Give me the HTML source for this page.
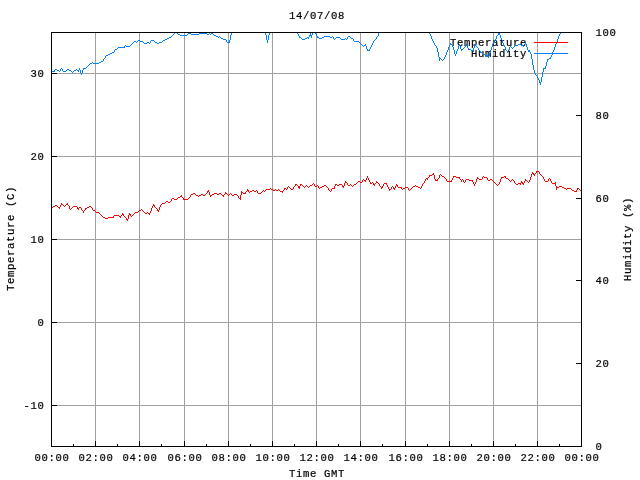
<!DOCTYPE html>
<html><head><meta charset="utf-8"><title>14/07/08</title>
<style>html,body{margin:0;padding:0;background:#fff;overflow:hidden}svg{display:block}</style></head>
<body>
<svg width="640" height="480" viewBox="0 0 640 480">
<rect x="0" y="0" width="640" height="480" fill="#fff"/>
<g shape-rendering="crispEdges" stroke-width="1" fill="none">
<g stroke="#a0a0a0">
<line x1="95.5" y1="32" x2="95.5" y2="447"/>
<line x1="139.5" y1="32" x2="139.5" y2="447"/>
<line x1="184.5" y1="32" x2="184.5" y2="447"/>
<line x1="228.5" y1="32" x2="228.5" y2="447"/>
<line x1="272.5" y1="32" x2="272.5" y2="447"/>
<line x1="316.5" y1="32" x2="316.5" y2="447"/>
<line x1="360.5" y1="32" x2="360.5" y2="447"/>
<line x1="405.5" y1="32" x2="405.5" y2="447"/>
<line x1="449.5" y1="32" x2="449.5" y2="447"/>
<line x1="493.5" y1="32" x2="493.5" y2="447"/>
<line x1="537.5" y1="32" x2="537.5" y2="447"/>
<line x1="51" y1="73.5" x2="582" y2="73.5"/>
<line x1="51" y1="156.5" x2="582" y2="156.5"/>
<line x1="51" y1="239.5" x2="582" y2="239.5"/>
<line x1="51" y1="322.5" x2="582" y2="322.5"/>
<line x1="51" y1="405.5" x2="582" y2="405.5"/>
</g>
</g>
<g font-family="'Liberation Mono', monospace" font-size="10.6px" letter-spacing="0.639px" fill="#000" stroke="#000" stroke-width="0.2">
<text x="450" y="46">Temperature</text>
<text x="471" y="57">Humidity</text>
</g>
<g fill="none" stroke-width="1" shape-rendering="crispEdges">
<path stroke="#0080ff" d="M175 32.5h2M212 32.5h1M231 32.5h1M265 32.5h1M269 32.5h1M297 32.5h1M312 32.5h1M315 32.5h1M379 32.5h1M429 32.5h1M560 32.5h1M174 33.5h1M177 33.5h1M188 33.5h3M199 33.5h8M209 33.5h1M211 33.5h2M231 33.5h1M265 33.5h1M269 33.5h1M297 33.5h1M310 33.5h1M312 33.5h1M315 33.5h1M378 33.5h1M429 33.5h1M498 33.5h2M560 33.5h1M173 34.5h1M178 34.5h2M187 34.5h1M191 34.5h8M207 34.5h2M210 34.5h1M213 34.5h1M231 34.5h1M265 34.5h1M269 34.5h1M298 34.5h1M310 34.5h1M312 34.5h1M316 34.5h1M378 34.5h1M430 34.5h1M498 34.5h2M559 34.5h1M172 35.5h1M180 35.5h7M214 35.5h2M230 35.5h1M266 35.5h1M268 35.5h1M298 35.5h1M309 35.5h3M316 35.5h1M378 35.5h1M430 35.5h1M497 35.5h1M500 35.5h1M559 35.5h1M171 36.5h1M216 36.5h2M219 36.5h1M230 36.5h1M266 36.5h1M268 36.5h1M299 36.5h1M309 36.5h1M311 36.5h1M317 36.5h1M324 36.5h6M332 36.5h1M348 36.5h2M377 36.5h1M431 36.5h1M496 36.5h1M500 36.5h1M558 36.5h1M169 37.5h2M218 37.5h1M220 37.5h1M230 37.5h1M266 37.5h1M268 37.5h1M299 37.5h2M307 37.5h2M311 37.5h1M317 37.5h2M322 37.5h2M330 37.5h2M333 37.5h1M336 37.5h4M347 37.5h1M350 37.5h1M376 37.5h1M431 37.5h1M496 37.5h1M500 37.5h1M558 37.5h1M167 38.5h2M221 38.5h2M230 38.5h1M266 38.5h1M268 38.5h1M301 38.5h1M305 38.5h2M308 38.5h1M319 38.5h3M333 38.5h1M335 38.5h1M340 38.5h1M345 38.5h1M347 38.5h1M351 38.5h2M376 38.5h1M431 38.5h1M496 38.5h1M501 38.5h1M558 38.5h1M165 39.5h2M223 39.5h3M230 39.5h1M266 39.5h1M268 39.5h1M302 39.5h3M334 39.5h1M341 39.5h4M346 39.5h1M353 39.5h1M375 39.5h1M432 39.5h1M495 39.5h1M501 39.5h1M557 39.5h1M138 40.5h2M151 40.5h3M163 40.5h2M226 40.5h1M229 40.5h1M267 40.5h1M353 40.5h1M374 40.5h1M432 40.5h1M494 40.5h1M502 40.5h1M557 40.5h1M134 41.5h2M137 41.5h1M140 41.5h3M150 41.5h1M154 41.5h1M162 41.5h1M226 41.5h1M229 41.5h1M267 41.5h1M354 41.5h5M373 41.5h1M433 41.5h1M494 41.5h1M502 41.5h1M557 41.5h1M133 42.5h1M136 42.5h1M143 42.5h1M147 42.5h2M150 42.5h1M155 42.5h2M159 42.5h3M227 42.5h3M267 42.5h1M359 42.5h1M373 42.5h1M433 42.5h1M494 42.5h1M502 42.5h1M525 42.5h1M556 42.5h1M132 43.5h1M144 43.5h3M149 43.5h1M157 43.5h2M360 43.5h1M372 43.5h1M434 43.5h1M450 43.5h1M493 43.5h1M503 43.5h1M525 43.5h1M556 43.5h1M131 44.5h1M361 44.5h1M365 44.5h1M372 44.5h1M434 44.5h1M450 44.5h2M459 44.5h1M466 44.5h1M474 44.5h1M492 44.5h1M503 44.5h1M518 44.5h3M524 44.5h1M526 44.5h1M555 44.5h1M125 45.5h1M130 45.5h1M362 45.5h1M364 45.5h2M371 45.5h1M435 45.5h1M449 45.5h1M452 45.5h1M459 45.5h1M465 45.5h2M474 45.5h2M492 45.5h1M503 45.5h1M515 45.5h3M521 45.5h3M526 45.5h1M555 45.5h1M124 46.5h1M126 46.5h4M363 46.5h1M366 46.5h1M371 46.5h1M436 46.5h1M449 46.5h1M452 46.5h1M458 46.5h1M460 46.5h1M465 46.5h1M467 46.5h1M474 46.5h1M476 46.5h1M492 46.5h1M504 46.5h1M510 46.5h1M514 46.5h1M523 46.5h1M526 46.5h1M555 46.5h1M118 47.5h7M366 47.5h1M370 47.5h1M436 47.5h1M448 47.5h1M453 47.5h1M458 47.5h1M460 47.5h1M464 47.5h1M467 47.5h1M474 47.5h1M477 47.5h1M491 47.5h1M505 47.5h1M509 47.5h1M511 47.5h1M513 47.5h1M527 47.5h1M554 47.5h1M117 48.5h1M366 48.5h1M370 48.5h1M437 48.5h1M448 48.5h1M453 48.5h1M458 48.5h1M460 48.5h1M463 48.5h1M468 48.5h1M473 48.5h1M478 48.5h1M491 48.5h1M505 48.5h1M509 48.5h1M512 48.5h1M527 48.5h1M554 48.5h1M115 49.5h2M367 49.5h1M369 49.5h1M437 49.5h1M448 49.5h1M453 49.5h1M457 49.5h1M461 49.5h2M468 49.5h3M473 49.5h1M478 49.5h1M491 49.5h1M505 49.5h1M509 49.5h1M527 49.5h1M554 49.5h1M114 50.5h1M367 50.5h3M437 50.5h1M447 50.5h1M454 50.5h1M457 50.5h1M461 50.5h1M471 50.5h3M479 50.5h1M490 50.5h1M506 50.5h1M508 50.5h1M528 50.5h2M553 50.5h1M114 51.5h1M437 51.5h1M447 51.5h1M454 51.5h1M456 51.5h1M473 51.5h1M480 51.5h1M490 51.5h1M507 51.5h1M528 51.5h2M553 51.5h1M112 52.5h2M438 52.5h1M446 52.5h1M454 52.5h1M456 52.5h1M480 52.5h2M490 52.5h1M507 52.5h1M530 52.5h1M552 52.5h1M110 53.5h2M438 53.5h1M446 53.5h1M454 53.5h1M456 53.5h1M482 53.5h1M489 53.5h1M530 53.5h1M552 53.5h1M108 54.5h2M438 54.5h1M446 54.5h1M455 54.5h1M483 54.5h2M489 54.5h1M531 54.5h1M552 54.5h1M106 55.5h2M438 55.5h1M445 55.5h1M455 55.5h1M485 55.5h3M489 55.5h1M531 55.5h1M551 55.5h1M105 56.5h1M438 56.5h1M445 56.5h1M487 56.5h2M531 56.5h1M551 56.5h1M105 57.5h1M439 57.5h1M444 57.5h1M488 57.5h1M531 57.5h1M550 57.5h1M104 58.5h1M439 58.5h2M444 58.5h1M531 58.5h1M549 58.5h2M103 59.5h1M439 59.5h1M441 59.5h1M443 59.5h1M532 59.5h1M547 59.5h2M103 60.5h1M439 60.5h1M442 60.5h1M532 60.5h1M547 60.5h1M101 61.5h2M532 61.5h1M547 61.5h1M92 62.5h1M99 62.5h2M532 62.5h1M546 62.5h1M90 63.5h2M93 63.5h6M532 63.5h1M546 63.5h1M89 64.5h1M532 64.5h1M546 64.5h1M88 65.5h1M533 65.5h1M546 65.5h1M87 66.5h1M533 66.5h1M545 66.5h1M86 67.5h1M533 67.5h1M545 67.5h1M61 68.5h1M79 68.5h1M83 68.5h3M533 68.5h1M543 68.5h3M55 69.5h2M60 69.5h1M62 69.5h1M67 69.5h2M76 69.5h1M79 69.5h1M83 69.5h1M533 69.5h1M543 69.5h1M54 70.5h1M57 70.5h2M60 70.5h1M62 70.5h1M66 70.5h1M69 70.5h2M74 70.5h2M77 70.5h2M80 70.5h1M82 70.5h1M534 70.5h1M543 70.5h1M51 71.5h4M59 71.5h1M63 71.5h3M71 71.5h1M73 71.5h1M78 71.5h1M80 71.5h1M82 71.5h1M534 71.5h1M543 71.5h1M72 72.5h1M80 72.5h1M82 72.5h1M534 72.5h1M542 72.5h1M81 73.5h1M535 73.5h1M542 73.5h1M81 74.5h1M535 74.5h1M542 74.5h1M536 75.5h1M542 75.5h1M537 76.5h1M542 76.5h1M537 77.5h1M541 77.5h1M538 78.5h1M541 78.5h1M538 79.5h1M541 79.5h1M539 80.5h1M541 80.5h1M539 81.5h1M541 81.5h1M539 82.5h2M540 83.5h1M540 84.5h1"/>
<path stroke="#ff0000" d="M536 171.5h3M532 172.5h1M536 172.5h1M539 172.5h1M433 173.5h1M532 173.5h2M535 173.5h1M539 173.5h1M432 174.5h2M440 174.5h1M531 174.5h1M533 174.5h2M540 174.5h1M429 175.5h3M434 175.5h1M439 175.5h1M441 175.5h1M531 175.5h1M534 175.5h1M541 175.5h1M367 176.5h1M429 176.5h1M434 176.5h1M439 176.5h1M442 176.5h2M453 176.5h3M483 176.5h1M504 176.5h2M531 176.5h1M542 176.5h1M367 177.5h1M428 177.5h1M434 177.5h1M439 177.5h1M444 177.5h1M453 177.5h1M456 177.5h4M477 177.5h1M482 177.5h1M484 177.5h3M501 177.5h3M505 177.5h1M530 177.5h1M543 177.5h1M366 178.5h1M368 178.5h1M426 178.5h2M434 178.5h1M438 178.5h1M445 178.5h1M452 178.5h1M459 178.5h1M477 178.5h2M482 178.5h1M487 178.5h1M501 178.5h1M506 178.5h2M530 178.5h1M543 178.5h1M549 178.5h1M363 179.5h1M366 179.5h1M368 179.5h1M425 179.5h1M427 179.5h1M435 179.5h1M437 179.5h1M446 179.5h1M452 179.5h1M460 179.5h1M462 179.5h1M466 179.5h3M476 179.5h1M479 179.5h3M487 179.5h1M490 179.5h2M500 179.5h1M508 179.5h1M512 179.5h1M525 179.5h1M530 179.5h1M544 179.5h1M548 179.5h1M550 179.5h1M362 180.5h1M364 180.5h2M369 180.5h1M425 180.5h1M435 180.5h3M446 180.5h1M451 180.5h1M461 180.5h1M463 180.5h1M465 180.5h1M469 180.5h4M476 180.5h1M488 180.5h2M492 180.5h1M500 180.5h1M509 180.5h1M511 180.5h1M513 180.5h1M525 180.5h2M529 180.5h1M544 180.5h1M548 180.5h1M550 180.5h1M345 181.5h1M358 181.5h2M362 181.5h1M365 181.5h1M369 181.5h1M376 181.5h1M424 181.5h1M447 181.5h5M461 181.5h1M463 181.5h1M465 181.5h1M472 181.5h1M476 181.5h1M493 181.5h1M500 181.5h1M510 181.5h1M514 181.5h1M521 181.5h1M524 181.5h1M527 181.5h1M529 181.5h1M545 181.5h3M551 181.5h1M345 182.5h2M357 182.5h1M360 182.5h2M370 182.5h1M372 182.5h1M376 182.5h2M424 182.5h1M464 182.5h1M473 182.5h1M475 182.5h1M494 182.5h1M499 182.5h1M514 182.5h1M521 182.5h2M524 182.5h1M528 182.5h1M551 182.5h1M555 182.5h1M313 183.5h1M344 183.5h1M347 183.5h1M356 183.5h1M370 183.5h2M373 183.5h1M375 183.5h1M378 183.5h1M384 183.5h3M423 183.5h1M473 183.5h1M475 183.5h1M495 183.5h1M499 183.5h1M515 183.5h1M518 183.5h3M522 183.5h2M552 183.5h4M295 184.5h2M300 184.5h2M312 184.5h1M314 184.5h1M335 184.5h2M339 184.5h3M344 184.5h1M347 184.5h1M350 184.5h1M354 184.5h2M373 184.5h2M379 184.5h1M383 184.5h1M386 184.5h1M396 184.5h1M422 184.5h1M474 184.5h1M496 184.5h1M498 184.5h1M516 184.5h2M520 184.5h1M523 184.5h1M555 184.5h1M295 185.5h1M297 185.5h1M300 185.5h1M302 185.5h1M306 185.5h1M310 185.5h2M314 185.5h1M317 185.5h1M324 185.5h2M335 185.5h1M337 185.5h2M342 185.5h1M344 185.5h1M348 185.5h2M351 185.5h1M353 185.5h1M374 185.5h1M379 185.5h1M383 185.5h1M387 185.5h1M396 185.5h2M415 185.5h1M422 185.5h1M474 185.5h1M497 185.5h1M555 185.5h1M288 186.5h1M294 186.5h1M298 186.5h2M303 186.5h1M305 186.5h1M307 186.5h1M309 186.5h1M315 186.5h2M318 186.5h1M322 186.5h2M326 186.5h1M334 186.5h1M342 186.5h2M352 186.5h1M380 186.5h1M382 186.5h1M387 186.5h1M392 186.5h1M395 186.5h1M397 186.5h1M413 186.5h2M416 186.5h2M421 186.5h1M556 186.5h1M559 186.5h3M287 187.5h1M289 187.5h1M293 187.5h1M298 187.5h2M304 187.5h1M308 187.5h1M318 187.5h1M320 187.5h2M327 187.5h1M334 187.5h1M343 187.5h1M381 187.5h2M388 187.5h1M391 187.5h1M393 187.5h1M395 187.5h1M398 187.5h4M405 187.5h3M412 187.5h1M418 187.5h2M421 187.5h1M556 187.5h3M562 187.5h2M270 188.5h1M284 188.5h2M287 188.5h1M290 188.5h1M293 188.5h1M299 188.5h1M319 188.5h1M328 188.5h1M332 188.5h3M381 188.5h1M388 188.5h1M391 188.5h1M393 188.5h2M401 188.5h1M403 188.5h2M408 188.5h1M411 188.5h1M420 188.5h1M556 188.5h1M564 188.5h2M567 188.5h4M577 188.5h2M247 189.5h1M266 189.5h4M271 189.5h2M275 189.5h1M278 189.5h1M284 189.5h1M286 189.5h1M291 189.5h2M328 189.5h1M331 189.5h1M389 189.5h2M394 189.5h1M402 189.5h1M408 189.5h1M410 189.5h1M556 189.5h1M566 189.5h1M571 189.5h1M577 189.5h1M579 189.5h1M208 190.5h1M247 190.5h2M252 190.5h2M256 190.5h1M263 190.5h1M265 190.5h1M273 190.5h2M276 190.5h2M279 190.5h1M283 190.5h1M329 190.5h1M331 190.5h1M389 190.5h1M409 190.5h1M572 190.5h2M576 190.5h1M580 190.5h1M207 191.5h2M241 191.5h1M246 191.5h1M248 191.5h1M250 191.5h2M254 191.5h2M257 191.5h1M262 191.5h1M264 191.5h1M280 191.5h3M330 191.5h1M574 191.5h3M581 191.5h1M207 192.5h1M209 192.5h1M225 192.5h1M241 192.5h2M245 192.5h1M249 192.5h1M257 192.5h1M261 192.5h1M282 192.5h1M193 193.5h2M206 193.5h1M209 193.5h1M214 193.5h3M219 193.5h2M225 193.5h2M230 193.5h1M241 193.5h1M243 193.5h3M258 193.5h3M191 194.5h2M195 194.5h1M201 194.5h2M205 194.5h1M209 194.5h1M212 194.5h2M217 194.5h2M221 194.5h1M224 194.5h1M227 194.5h1M229 194.5h1M231 194.5h1M234 194.5h3M241 194.5h1M181 195.5h1M190 195.5h1M196 195.5h2M199 195.5h2M203 195.5h2M210 195.5h2M222 195.5h2M228 195.5h1M232 195.5h2M237 195.5h1M240 195.5h1M180 196.5h2M190 196.5h1M198 196.5h1M210 196.5h1M223 196.5h1M238 196.5h1M240 196.5h1M178 197.5h2M182 197.5h1M189 197.5h1M238 197.5h1M240 197.5h1M172 198.5h2M177 198.5h1M183 198.5h1M188 198.5h1M239 198.5h2M171 199.5h1M174 199.5h3M183 199.5h5M240 199.5h1M171 200.5h1M166 201.5h2M170 201.5h1M165 202.5h1M168 202.5h2M61 203.5h1M67 203.5h1M162 203.5h3M61 204.5h2M66 204.5h2M153 204.5h1M161 204.5h1M55 205.5h2M60 205.5h1M63 205.5h1M65 205.5h1M68 205.5h1M153 205.5h2M160 205.5h1M53 206.5h2M57 206.5h1M60 206.5h1M64 206.5h1M69 206.5h1M73 206.5h4M89 206.5h2M152 206.5h1M154 206.5h1M160 206.5h1M52 207.5h1M58 207.5h2M69 207.5h1M72 207.5h1M77 207.5h1M79 207.5h2M87 207.5h2M91 207.5h1M152 207.5h1M155 207.5h1M159 207.5h1M51 208.5h1M59 208.5h1M69 208.5h1M71 208.5h1M77 208.5h2M81 208.5h1M85 208.5h2M92 208.5h1M151 208.5h1M156 208.5h1M159 208.5h1M70 209.5h1M78 209.5h1M81 209.5h1M85 209.5h1M92 209.5h1M141 209.5h1M151 209.5h1M157 209.5h1M159 209.5h1M82 210.5h1M84 210.5h1M93 210.5h2M139 210.5h2M142 210.5h1M151 210.5h1M157 210.5h2M83 211.5h1M95 211.5h1M138 211.5h1M143 211.5h1M150 211.5h1M158 211.5h1M83 212.5h1M96 212.5h3M135 212.5h3M144 212.5h1M147 212.5h1M150 212.5h1M99 213.5h1M122 213.5h1M129 213.5h1M134 213.5h1M145 213.5h2M148 213.5h2M100 214.5h1M122 214.5h2M129 214.5h2M133 214.5h1M149 214.5h1M101 215.5h1M114 215.5h5M121 215.5h1M123 215.5h1M128 215.5h1M130 215.5h1M132 215.5h1M102 216.5h1M113 216.5h1M119 216.5h2M124 216.5h1M128 216.5h1M131 216.5h1M103 217.5h2M108 217.5h6M120 217.5h1M125 217.5h1M128 217.5h1M105 218.5h3M126 218.5h1M128 218.5h1M126 219.5h2M127 220.5h1"/>
</g>
<g shape-rendering="crispEdges" stroke-width="1" fill="none">
<line x1="534" y1="42.5" x2="568" y2="42.5" stroke="#ff0000"/>
<line x1="534" y1="53.5" x2="568" y2="53.5" stroke="#0080ff"/>
<g stroke="#000">
<rect x="51.5" y="32.5" width="530" height="414"/>
<line x1="51" y1="73.5" x2="57" y2="73.5"/>
<line x1="51" y1="156.5" x2="57" y2="156.5"/>
<line x1="51" y1="239.5" x2="57" y2="239.5"/>
<line x1="51" y1="322.5" x2="57" y2="322.5"/>
<line x1="51" y1="405.5" x2="57" y2="405.5"/>
<line x1="576" y1="363.5" x2="582" y2="363.5"/>
<line x1="576" y1="280.5" x2="582" y2="280.5"/>
<line x1="576" y1="198.5" x2="582" y2="198.5"/>
<line x1="576" y1="115.5" x2="582" y2="115.5"/>
<line x1="95.5" y1="441" x2="95.5" y2="447"/>
<line x1="139.5" y1="441" x2="139.5" y2="447"/>
<line x1="184.5" y1="441" x2="184.5" y2="447"/>
<line x1="228.5" y1="441" x2="228.5" y2="447"/>
<line x1="272.5" y1="441" x2="272.5" y2="447"/>
<line x1="316.5" y1="441" x2="316.5" y2="447"/>
<line x1="360.5" y1="441" x2="360.5" y2="447"/>
<line x1="405.5" y1="441" x2="405.5" y2="447"/>
<line x1="449.5" y1="441" x2="449.5" y2="447"/>
<line x1="493.5" y1="441" x2="493.5" y2="447"/>
<line x1="537.5" y1="441" x2="537.5" y2="447"/>
<line x1="73.5" y1="444" x2="73.5" y2="447"/>
<line x1="117.5" y1="444" x2="117.5" y2="447"/>
<line x1="161.5" y1="444" x2="161.5" y2="447"/>
<line x1="206.5" y1="444" x2="206.5" y2="447"/>
<line x1="250.5" y1="444" x2="250.5" y2="447"/>
<line x1="294.5" y1="444" x2="294.5" y2="447"/>
<line x1="338.5" y1="444" x2="338.5" y2="447"/>
<line x1="382.5" y1="444" x2="382.5" y2="447"/>
<line x1="427.5" y1="444" x2="427.5" y2="447"/>
<line x1="471.5" y1="444" x2="471.5" y2="447"/>
<line x1="515.5" y1="444" x2="515.5" y2="447"/>
<line x1="559.5" y1="444" x2="559.5" y2="447"/>
</g></g>
<g font-family="'Liberation Mono', monospace" font-size="10.6px" letter-spacing="0.639px" fill="#000" stroke="#000" stroke-width="0.2">
<text x="30.5" y="76.5" text-anchor="start" >30</text>
<text x="30.5" y="159.5" text-anchor="start" >20</text>
<text x="30.5" y="242.5" text-anchor="start" >10</text>
<text x="37.5" y="325.5" text-anchor="start" >0</text>
<text x="23.5" y="408.5" text-anchor="start" >-10</text>
<text x="595.4" y="449.5" text-anchor="start" >0</text>
<text x="595.4" y="366.5" text-anchor="start" >20</text>
<text x="595.4" y="283.5" text-anchor="start" >40</text>
<text x="595.4" y="201.5" text-anchor="start" >60</text>
<text x="595.4" y="118.5" text-anchor="start" >80</text>
<text x="595.4" y="35.5" text-anchor="start" >100</text>
<text x="34.4" y="461" text-anchor="start" >00:00</text>
<text x="78.4" y="461" text-anchor="start" >02:00</text>
<text x="122.4" y="461" text-anchor="start" >04:00</text>
<text x="167.4" y="461" text-anchor="start" >06:00</text>
<text x="211.4" y="461" text-anchor="start" >08:00</text>
<text x="255.4" y="461" text-anchor="start" >10:00</text>
<text x="299.4" y="461" text-anchor="start" >12:00</text>
<text x="343.4" y="461" text-anchor="start" >14:00</text>
<text x="388.4" y="461" text-anchor="start" >16:00</text>
<text x="432.4" y="461" text-anchor="start" >18:00</text>
<text x="476.4" y="461" text-anchor="start" >20:00</text>
<text x="520.4" y="461" text-anchor="start" >22:00</text>
<text x="564.4" y="461" text-anchor="start" >00:00</text>
<text x="289" y="477" text-anchor="start" >Time GMT</text>
<text x="289" y="19" text-anchor="start" >14/07/08</text>
<text x="0" y="0" text-anchor="start" transform="translate(14,291) rotate(-90)">Temperature (C)</text>
<text x="0" y="0" text-anchor="start" transform="translate(631,281) rotate(-90)">Humidity (%)</text>
</g>
</svg>
</body></html>
